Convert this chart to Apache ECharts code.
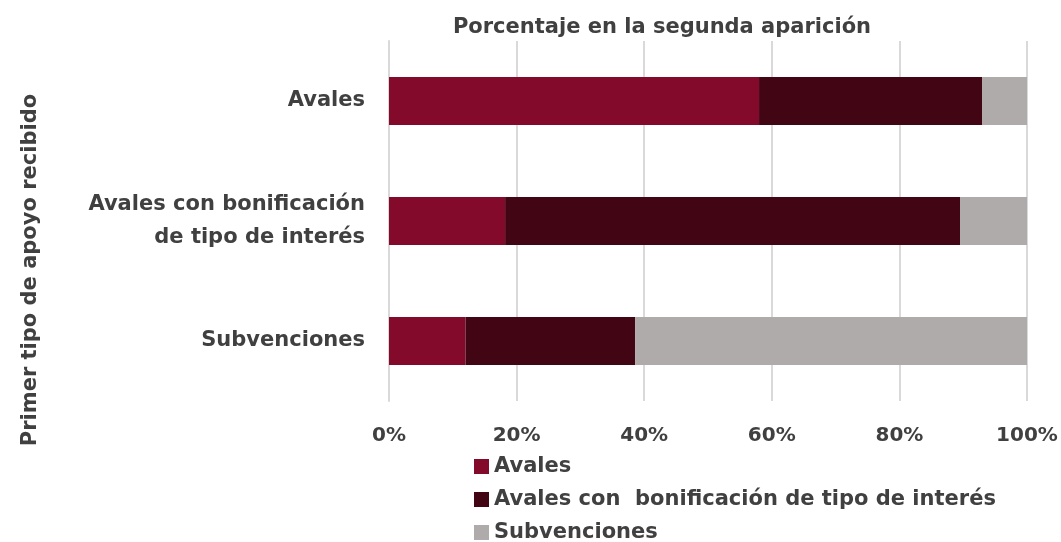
<!DOCTYPE html>
<html>
<head>
<meta charset="utf-8">
<script src="https://cdn.jsdelivr.net/npm/echarts@6/dist/echarts.min.js"></script>
<style>
html, body { margin: 0; padding: 0; background: #fff; }
#main { width: 1061px; height: 542px; }
</style>
</head>
<body>
<div id="main"></div>
<script>
// categorias (primer tipo de apoyo)
var categorias = ['Avales', 'Avales con bonificación\nde tipo de interés', 'Subvenciones']
var nombres = ['Avales', 'Avales con  bonificación de tipo de interés', 'Subvenciones']
// porcentaje en la segunda aparicion, por serie
var avales = [58.0, 18.2, 12.0]
var avalesBonif = [35.0, 71.3, 26.6]
var subvenciones = [7.0, 10.5, 61.4]
var ticks = [0, 20, 40, 60, 80, 100]

var colores = ['#840A2B', '#420514', '#AEABAA']
var gris = '#404040'
var fuente = 'DejaVu Sans'

var myChart = echarts.init(document.getElementById('main'))
var valores = [avales, avalesBonif, subvenciones]
var series = []
for (var i = 0; i < nombres.length; i++) {
  series.push({
    name: nombres[i],
    type: 'bar',
    stack: 'total',
    barWidth: '40%',
    data: valores[i],
    itemStyle: { color: colores[i] }
  })
}

var option = {
  animation: false,
  textStyle: { fontFamily: fuente },
  title: {
    text: 'Porcentaje en la segunda aparición',
    left: 657,
    top: 12,
    textAlign: 'center',
    textStyle: { fontFamily: fuente, fontSize: 21, fontWeight: 'bold', color: gris }
  },
  legend: {
    orient: 'vertical',
    left: 469,
    top: 451,
    height: 120,
    itemWidth: 15,
    itemHeight: 15,
    itemGap: 12,
    icon: 'rect',
    textStyle: { fontFamily: fuente, fontSize: 21, fontWeight: 'bold', color: gris },
    data: nombres
  },
  grid: { left: 389, right: 34, top: 41, bottom: 141 },
  xAxis: {
    type: 'value',
    min: 0,
    max: 100,
    interval: 20,
    axisLabel: {
      formatter: function (v) { return ticks.indexOf(v) >= 0 ? v + '%' : '' },
      fontFamily: fuente, fontSize: 20, fontWeight: 'bold', color: gris, margin: 25
    },
    axisLine: { show: false },
    axisTick: { show: false },
    splitLine: { lineStyle: { color: '#D9D9D9', width: 2 } }
  },
  yAxis: {
    type: 'category',
    inverse: true,
    data: categorias,
    axisLabel: {
      fontFamily: fuente, fontSize: 21, fontWeight: 'bold', color: gris, margin: 24,
      lineHeight: 33, align: 'right'
    },
    axisLine: { lineStyle: { color: '#D9D9D9', width: 2 } },
    axisTick: { show: false }
  },
  graphic: [{
    type: 'text',
    x: 31,
    y: 270,
    rotation: Math.PI / 2,
    style: {
      text: 'Primer tipo de apoyo recibido',
      fontFamily: fuente,
      fontSize: 21,
      fontWeight: 'bold',
      fill: gris,
      align: 'center',
      verticalAlign: 'middle'
    }
  }],
  series: series
}

myChart.setOption(option)
</script>
</body>
</html>
